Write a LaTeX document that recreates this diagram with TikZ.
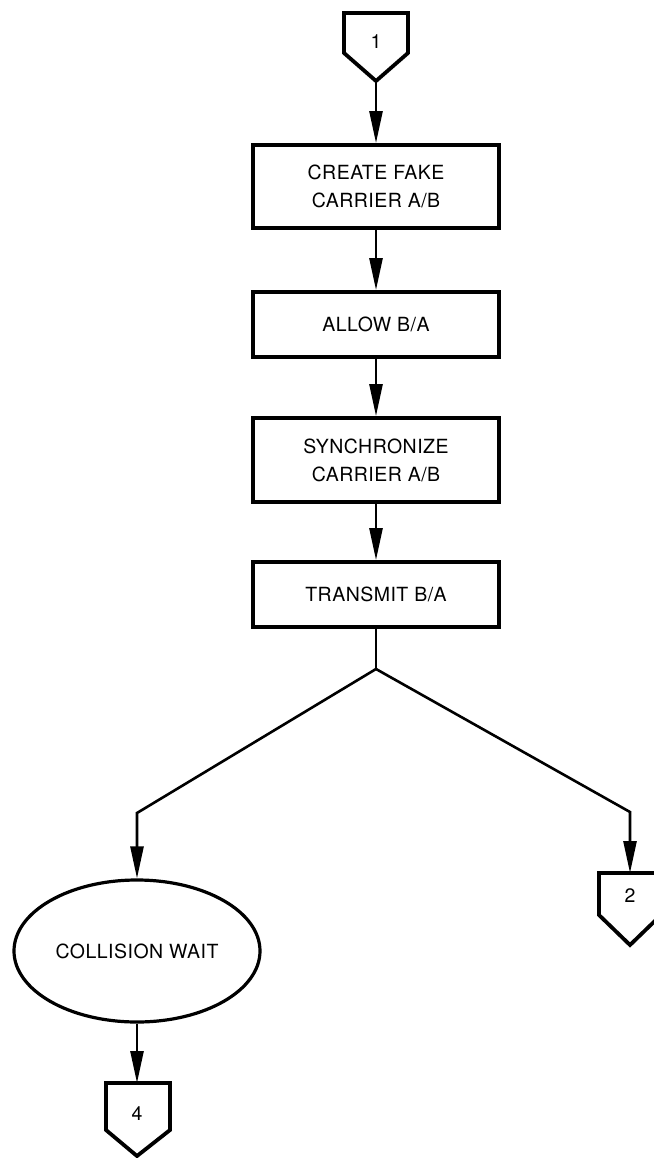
\documentclass[tikz,border=0pt]{standalone}
\usepackage{fontspec}
\setmainfont[LetterSpace=2.5]{TeX Gyre Heros}
\usetikzlibrary{shapes.geometric,arrows.meta}
\begin{document}
\begin{tikzpicture}[x=1pt,y=-1pt,
  box/.style={draw,line width=3.8pt,rectangle,minimum width=246pt,inner sep=0pt,align=center,font=\fontsize{19.5}{28}\selectfont},
  oval/.style={draw,line width=3.2pt,ellipse,minimum width=246pt,minimum height=142pt,inner sep=0pt,font=\fontsize{19.5}{28}\selectfont},
  conn/.style={line width=2.6pt},
  arr/.style={line width=2.6pt,-{Triangle[length=32pt,width=13pt]}},
  pent/.style={line width=3.8pt,line join=miter},
  lbl/.style={font=\fontsize{19.5}{20}\selectfont,inner sep=0pt}]
\useasboundingbox (0,0) rectangle (653,1158);
% off-page connector 1
\draw[pent] (344,13) -- (408,13) -- (408,53) -- (376,81) -- (344,53) -- cycle;
\node[lbl] (c1) at (376,42) {1};
\coordinate (c1tip) at (376,81);
% boxes
\node[box,minimum height=83pt] (b1) at (376,186.5) {CREATE FAKE\\CARRIER A/B};
\node[box,minimum height=65pt] (b2) at (376,324.5) {ALLOW B/A};
\node[box,minimum height=84pt] (b3) at (376,460) {SYNCHRONIZE\\CARRIER A/B};
\node[box,minimum height=65pt] (b4) at (376,594.5) {TRANSMIT B/A};
\draw[arr] (c1tip) -- (b1);
\draw[arr] (b1) -- (b2);
\draw[arr] (b2) -- (b3);
\draw[arr] (b3) -- (b4);
% fork
\coordinate (fork) at (376,669);
\coordinate (lk) at (137,813);
\coordinate (rk) at (630,812);
\node[oval] (cw) at (137,951) {COLLISION WAIT};
\draw[conn] (b4) -- (fork);
\draw[arr] (fork) -- (lk) -- (cw);
% connector 2
\draw[pent] (599,873) -- (661,873) -- (661,915) -- (630,945) -- (599,915) -- cycle;
\node[lbl] (c2) at (630,896) {2};
\coordinate (c2top) at (630,873);
\draw[arr] (fork) -- (rk) -- (c2top);
% connector 4
\draw[pent] (106,1083) -- (170,1083) -- (170,1130) -- (137,1156) -- (106,1130) -- cycle;
\node[lbl] (c4) at (137,1114) {4};
\coordinate (c4top) at (137,1083);
\draw[arr] (cw) -- (c4top);
\end{tikzpicture}
\end{document}
